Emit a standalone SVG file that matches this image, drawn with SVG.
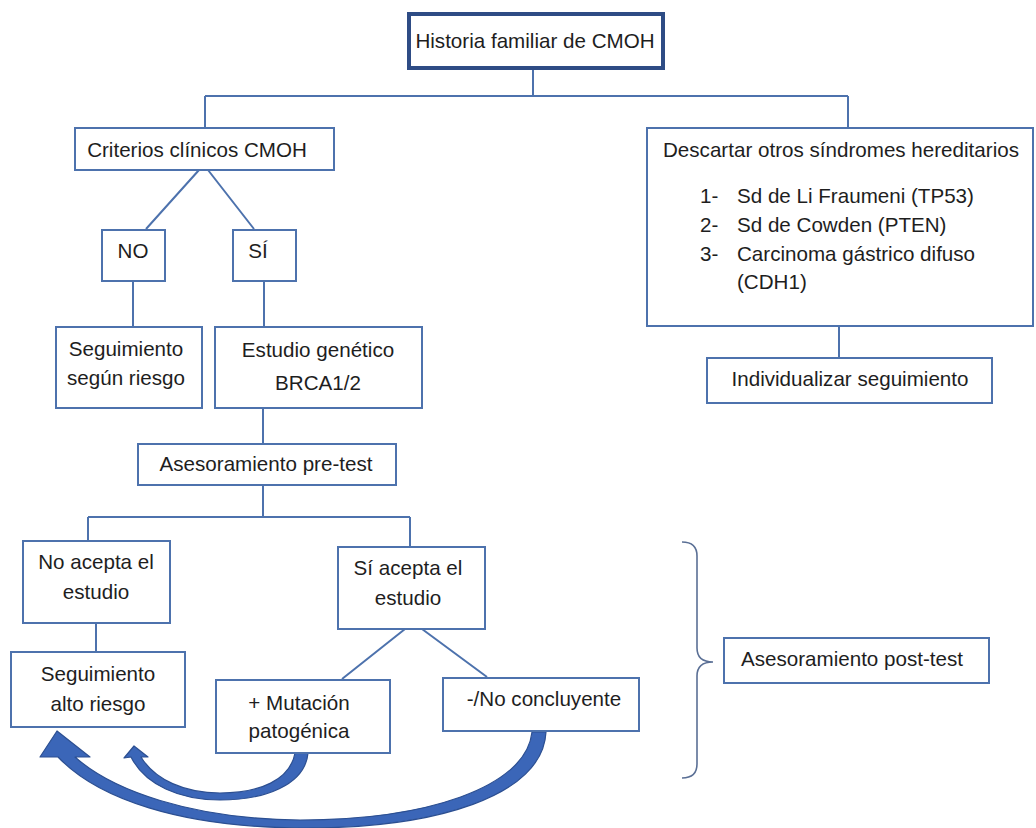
<svg xmlns="http://www.w3.org/2000/svg" width="1036" height="828" viewBox="0 0 1036 828">
<defs>
<style>
.box{fill:#fff;stroke:#4d72ad;stroke-width:2}
.top{fill:#fff;stroke:#2e4c85;stroke-width:4}
.ln{fill:none;stroke:#4d72ad;stroke-width:2}
.br{fill:none;stroke:#5a6f95;stroke-width:1.6}
.t{font-family:"Liberation Sans",Arial,sans-serif;font-size:20.6px;fill:#1e1e1e}
.m{text-anchor:middle}
.arr{fill:#3b66b8;stroke:#2c4f91;stroke-width:1.2;stroke-linejoin:round}
</style>
</defs>
<rect width="1036" height="828" fill="#fff"/>
<g id="connectors">
<path class="ln" d="M533,70V96M205,96H848M205,96V127M848,96V127"/>
<path class="ln" d="M199,170L146,229M208,170L254,229"/>
<path class="ln" d="M133,281V326M264,281V326"/>
<path class="ln" d="M263,409V443M263,485V517M88,517H410M88,517V540M410,517V546"/>
<path class="ln" d="M96,623V651"/>
<path class="ln" d="M405,629L342,679M422,629L487,677"/>
<path class="ln" d="M839,327V357"/>
<path class="br" d="M682,542Q697,542 697,556V648Q697,662 713,662Q697,662 697,676V764Q697,778 682,778"/>
<path class="arr" d="M546,732C543,796 436,829 300,828C180,827 98,799 58,757L40,757L57,731L90,757L75,757C112,790 190,819 300,820C425,820 526,788 532,732Z"/>
<path class="arr" d="M308,753C305,785 265,800 220,800C180,800 145,785 131,757L124,758L134,746L148,757L141,757C155,780 185,793 220,793C260,793 290,780 295,753Z"/>
</g>
<g id="n-historia"><rect class="top" x="409" y="14" width="254" height="54"/><text class="t m" x="535" y="48">Historia familiar de CMOH</text></g>
<g id="n-criterios"><rect class="box" x="75" y="128" width="259" height="42"/><text class="t m" x="197" y="157">Criterios clínicos CMOH</text></g>
<g id="n-descartar"><rect class="box" x="647" y="128" width="386" height="198"/>
<text class="t" x="663" y="157">Descartar otros síndromes hereditarios</text>
<text class="t" x="700" y="203">1-</text><text class="t" x="737" y="203">Sd de Li Fraumeni (TP53)</text>
<text class="t" x="700" y="232">2-</text><text class="t" x="737" y="232">Sd de Cowden (PTEN)</text>
<text class="t" x="700" y="261">3-</text><text class="t" x="737" y="261">Carcinoma gástrico difuso</text>
<text class="t" x="737" y="289">(CDH1)</text></g>
<g id="n-individualizar"><rect class="box" x="707" y="358" width="285" height="45"/><text class="t m" x="850" y="386">Individualizar seguimiento</text></g>
<g id="n-no"><rect class="box" x="102" y="230" width="63" height="51"/><text class="t m" x="133" y="258">NO</text></g>
<g id="n-si"><rect class="box" x="233" y="230" width="63" height="51"/><text class="t m" x="258" y="258">SÍ</text></g>
<g id="n-seg-riesgo"><rect class="box" x="56" y="327" width="146" height="81"/><text class="t m" x="126" y="356">Seguimiento</text><text class="t m" x="126" y="385">según riesgo</text></g>
<g id="n-estudio"><rect class="box" x="215" y="327" width="207" height="81"/><text class="t m" x="318" y="357">Estudio genético</text><text class="t m" x="318" y="390">BRCA1/2</text></g>
<g id="n-pretest"><rect class="box" x="138" y="444" width="258" height="41"/><text class="t m" x="266" y="471">Asesoramiento pre-test</text></g>
<g id="n-noacepta"><rect class="box" x="23" y="541" width="147" height="82"/><text class="t m" x="96" y="569">No acepta el</text><text class="t m" x="96" y="599">estudio</text></g>
<g id="n-segalto"><rect class="box" x="11" y="652" width="174" height="75"/><text class="t m" x="98" y="681">Seguimiento</text><text class="t m" x="98" y="711">alto riesgo</text></g>
<g id="n-siacepta"><rect class="box" x="338" y="547" width="147" height="82"/><text class="t m" x="408" y="575">Sí acepta el</text><text class="t m" x="408" y="605">estudio</text></g>
<g id="n-mutacion"><rect class="box" x="216" y="680" width="174" height="73"/><text class="t m" x="299" y="710">+ Mutación</text><text class="t m" x="299" y="738">patogénica</text></g>
<g id="n-noconc"><rect class="box" x="443" y="678" width="196" height="53"/><text class="t m" x="544" y="706">-/No concluyente</text></g>
<g id="n-posttest"><rect class="box" x="724" y="638" width="265" height="45"/><text class="t m" x="852" y="666">Asesoramiento post-test</text></g>
</svg>
